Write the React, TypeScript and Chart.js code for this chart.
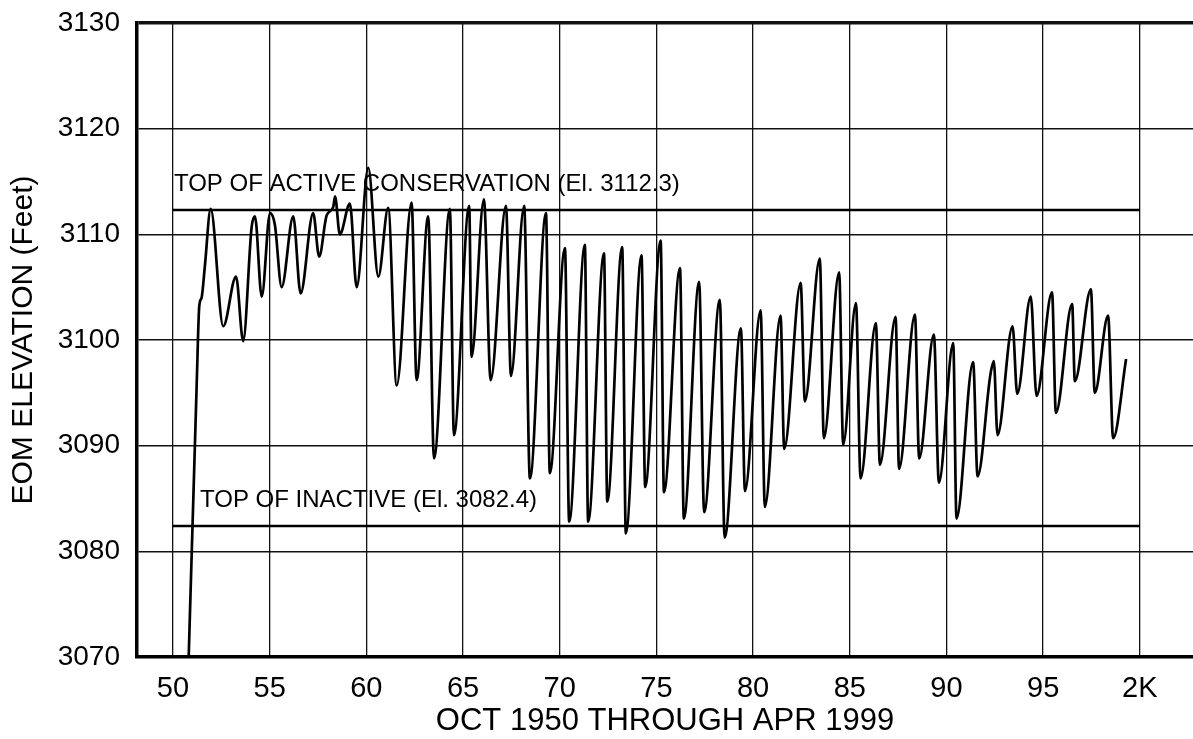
import React, { useEffect, useRef } from 'react';
import { Chart, registerables } from 'chart.js';

Chart.register(...registerables);

// Turning points of the end-of-month elevation trace (decimal year since 1900, feet)
const years = [
  50.75, 51.23, 51.36, 51.48, 51.65, 51.95, 52.6, 53.26, 53.63, 54.07, 54.24, 54.59,
  55.02, 55.27, 55.62, 56.22, 56.6, 57.25, 57.56, 57.95, 58.29, 58.38, 58.63, 59.15,
  59.5, 60.1, 60.62, 61.13, 61.57, 62.34, 62.6, 63.2, 63.5, 64.32, 64.53, 65.32,
  65.44, 66.08, 66.43, 67.22, 67.48, 68.16, 68.46, 69.29, 69.49, 70.27, 70.49, 71.3,
  71.47, 72.29, 72.46, 73.23, 73.42, 74.23, 74.42, 75.22, 75.39, 76.22, 76.42, 77.21,
  77.47, 78.28, 78.53, 79.37, 79.58, 80.39, 80.61, 81.42, 81.61, 82.46, 82.68, 83.45,
  83.66, 84.45, 84.66, 85.32, 85.56, 86.35, 86.56, 87.37, 87.55, 88.37, 88.59, 89.35,
  89.61, 90.35, 90.52, 91.38, 91.61, 92.28, 92.45, 92.64, 93.42, 93.66, 94.36, 94.66,
  95.46, 95.66, 96.5, 96.64, 97.47, 97.67, 98.36, 98.62, 99.29,
];
const elevations = [
  3066, 3096, 3103.2, 3104, 3107, 3112.4, 3101.3, 3106, 3099.9, 3110.7, 3111.7, 3104.1,
  3112.0, 3110.9, 3105.0, 3111.7, 3104.4, 3112.0, 3107.9, 3111.8, 3112.6, 3113.6, 3110.0, 3112.9,
  3105.0, 3116.3, 3106.0, 3112.5, 3095.7, 3113.0, 3096.2, 3111.7, 3088.8, 3112.4, 3091.0, 3112.7,
  3098.4, 3113.3, 3096.2, 3112.7, 3096.6, 3112.7, 3086.9, 3112.0, 3087.4, 3108.7, 3082.8, 3109.0,
  3082.8, 3108.2, 3084.7, 3108.8, 3081.7, 3108.0, 3086.1, 3109.4, 3085.6, 3106.8, 3083.1, 3105.5,
  3083.7, 3103.8, 3081.3, 3101.1, 3085.7, 3102.8, 3084.2, 3102.3, 3089.7, 3105.4, 3094.2, 3107.7,
  3090.7, 3106.4, 3090.1, 3103.5, 3086.9, 3101.6, 3088.2, 3102.2, 3087.8, 3102.4, 3088.8, 3100.5,
  3086.5, 3099.7, 3083.1, 3097.9, 3087.1, 3096.8, 3098.0, 3091.0, 3101.3, 3094.9, 3104.1, 3094.7,
  3104.5, 3093.1, 3103.4, 3096.1, 3104.8, 3095.0, 3102.3, 3090.7, 3098.2,
];

const xTickValues = [50, 55, 60, 65, 70, 75, 80, 85, 90, 95, 100];
const xTickLabels = ['50', '55', '60', '65', '70', '75', '80', '85', '90', '95', '2K'];
const yTickValues = [3070, 3080, 3090, 3100, 3110, 3120, 3130];

const refLevels = [3112.3, 3082.4];
const refLabels = ['TOP OF ACTIVE CONSERVATION (El. 3112.3)', 'TOP OF INACTIVE (El. 3082.4)'];
const refStartYear = 50;
const refEndYear = 100;

const xTitle = 'OCT 1950 THROUGH APR 1999';
const yTitle = 'EOM ELEVATION (Feet)';

const FONT = "'Liberation Sans', Arial, Helvetica, sans-serif";

const refLabelPlugin = {
  id: 'refLabels',
  afterDatasetsDraw(chart: any, _args: any, opts: any) {
    const { ctx, scales } = chart;
    const xs = scales.x;
    const ys = scales.y;
    ctx.save();
    ctx.font = `24px ${FONT}`;
    ctx.fillStyle = '#000';
    ctx.textBaseline = 'alphabetic';
    ctx.textAlign = 'left';
    refLabels.forEach((label, i) => {
      const x = xs.getPixelForValue(opts.anchorYears[i]);
      const y = ys.getPixelForValue(refLevels[i]) - opts.gap;
      ctx.fillText(label, x, y);
    });
    ctx.restore();
  },
};

export default function App() {
  const canvasRef = useRef<HTMLCanvasElement | null>(null);

  useEffect(() => {
    if (!canvasRef.current) return;
    const seriesData = years.map((x, i) => ({ x, y: elevations[i] }));
    const refDatasets = refLevels.map((lvl) => ({
      label: String(lvl),
      data: [
        { x: refStartYear, y: lvl },
        { x: refEndYear, y: lvl },
      ],
      borderColor: '#000',
      borderWidth: 2.6,
      pointRadius: 0,
      tension: 0,
    }));

    const chart = new Chart(canvasRef.current, {
      type: 'line',
      data: {
        datasets: [
          {
            label: 'EOM Elevation',
            data: seriesData,
            borderColor: '#000',
            borderWidth: 2.7,
            pointRadius: 0,
            cubicInterpolationMode: 'monotone',
          },
          ...refDatasets,
        ],
      },
      options: {
        animation: false,
        responsive: false,
        maintainAspectRatio: false,
        layout: { padding: { top: 23, right: 0, bottom: 0, left: 0 } },
        plugins: {
          legend: { display: false },
          tooltip: { enabled: false },
          refLabels: { anchorYears: [50.05, 51.4], gap: 19 },
        } as any,
        scales: {
          x: {
            type: 'linear',
            min: 48.14,
            max: 102.75,
            afterBuildTicks: (scale: any) => {
              scale.ticks = xTickValues.map((v) => ({ value: v }));
            },
            afterFit: (scale: any) => {
              scale.height = 82;
              scale.paddingLeft = 0;
              scale.paddingRight = 0;
            },
            ticks: {
              font: { family: FONT, size: 29 },
              color: '#000',
              padding: 15,
              maxRotation: 0,
              autoSkip: false,
              callback: (value: any) => {
                const idx = xTickValues.indexOf(Number(value));
                return idx >= 0 ? xTickLabels[idx] : '';
              },
            },
            grid: {
              color: '#111',
              lineWidth: 1.3,
              drawTicks: false,
            },
            border: { display: true, color: '#000', width: 3.5 },
            title: {
              display: true,
              text: xTitle,
              font: { family: FONT, size: 31 },
              color: '#000',
              padding: { top: 0, bottom: -1 },
            },
          },
          y: {
            type: 'linear',
            min: 3070,
            max: 3130,
            afterBuildTicks: (scale: any) => {
              scale.ticks = yTickValues.map((v) => ({ value: v }));
            },
            afterFit: (scale: any) => {
              scale.width = 137;
              scale.paddingTop = 0;
              scale.paddingBottom = 0;
            },
            ticks: {
              font: { family: FONT, size: 28 },
              color: '#000',
              padding: 17,
              callback: (value: any) => String(value),
            },
            grid: {
              color: '#111',
              lineWidth: (ctx: any) => (ctx.tick && ctx.tick.value === 3130 ? 3.5 : 1.5),
              drawTicks: false,
            },
            border: { display: true, color: '#000', width: 3.5 },
            title: {
              display: true,
              text: yTitle,
              font: { family: FONT, size: 30 },
              color: '#000',
              padding: { top: 6, bottom: 0 },
            },
          },
        },
      } as any,
      plugins: [refLabelPlugin],
    });

    return () => chart.destroy();
  }, []);

  return (
    <div style={{ position: 'absolute', left: 0, top: 0, width: 1193, height: 739, background: '#fff' }}>
      <canvas ref={canvasRef} width={1193} height={739} style={{ width: 1193, height: 739, display: 'block' }} />
    </div>
  );
}
